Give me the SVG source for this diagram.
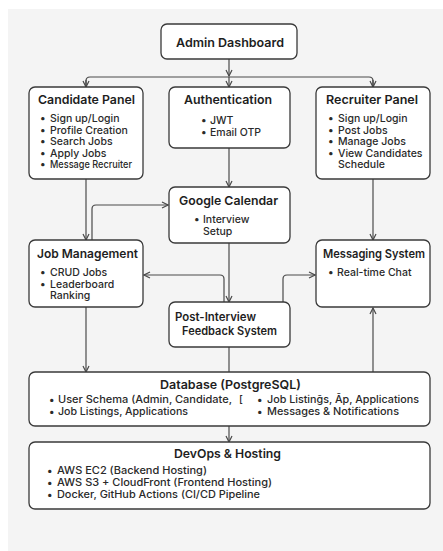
<svg xmlns="http://www.w3.org/2000/svg" width="443" height="551" viewBox="0 0 443 551">
<style>
.box{fill:#ffffff;stroke:#3a3a3a;stroke-width:1.3}
.t{font-family:Inter,"Liberation Sans",sans-serif;font-weight:600;font-size:12.3px;fill:#1e1e1e}
.f{font-family:Inter,"Liberation Sans",sans-serif;font-weight:600;font-size:11.2px;fill:#1e1e1e}
.b{font-family:Inter,"Liberation Sans",sans-serif;font-weight:500;font-size:10.5px;fill:#2a2a2a}
.d{font-family:Inter,"Liberation Sans",sans-serif;font-weight:500;font-size:10.3px;fill:#2a2a2a}
.c{fill:none;stroke:#4a4a4a;stroke-width:1.2}
</style>
<defs>
<marker id="ah" viewBox="0 0 8 8" refX="7" refY="4" markerWidth="8" markerHeight="8" markerUnits="userSpaceOnUse" orient="auto">
<path d="M1,1 L7,4 L1,7" fill="none" stroke="#4a4a4a" stroke-width="1.2"/>
</marker>
</defs>
<rect x="0" y="0" width="443" height="551" fill="#ffffff"/>
<rect x="8" y="9" width="435" height="542" fill="#f4f4f4"/>

<g id="connectors">
<path class="c" d="M229,59 V76" marker-end="url(#ah)"/>
<path class="c" d="M86,87 V81 Q86,77 90,77 H369 Q373,77 373,81 V87" />
<path class="c" d="M86,80 V87" marker-end="url(#ah)"/>
<path class="c" d="M373,80 V87" marker-end="url(#ah)"/>
<path class="c" d="M229,77 V87" marker-end="url(#ah)"/>
<path class="c" d="M229,148 V187" marker-end="url(#ah)"/>
<path class="c" d="M86,179 V240" marker-end="url(#ah)"/>
<path class="c" d="M92,240 V209 Q92,205 96,205 H168" marker-end="url(#ah)"/>
<path class="c" d="M373,179 V240" marker-end="url(#ah)"/>
<path class="c" d="M229,243 V302" marker-end="url(#ah)"/>
<path class="c" d="M224,302 V279 Q224,275 220,275 H144" marker-end="url(#ah)"/>
<path class="c" d="M283,302 V279 Q283,275 287,275 H315" marker-end="url(#ah)"/>
<path class="c" d="M86,307 V372" marker-end="url(#ah)"/>
<path class="c" d="M229,347 V372"/>
<path class="c" d="M373,372 V308" marker-end="url(#ah)"/>
<path class="c" d="M229,426 V442" marker-end="url(#ah)"/>
</g>

<g id="admin">
<rect class="box" x="161" y="24" width="136" height="35" rx="6"/>
<text class="t" x="176" y="47" textLength="108" lengthAdjust="spacingAndGlyphs">Admin Dashboard</text>
</g>

<g id="candidate">
<rect class="box" x="29" y="87" width="114" height="92" rx="6"/>
<text class="t" x="38" y="104" textLength="97" lengthAdjust="spacingAndGlyphs">Candidate Panel</text>
<text class="b" x="40" y="122">•</text><text class="b" x="50" y="122">Sign up/Login</text>
<text class="b" x="40" y="133.5">•</text><text class="b" x="50" y="133.5">Profile Creation</text>
<text class="b" x="40" y="145">•</text><text class="b" x="50" y="145">Search Jobs</text>
<text class="b" x="40" y="156.5">•</text><text class="b" x="50" y="156.5">Apply Jobs</text>
<text class="b" x="40" y="168">•</text><text class="b" x="50" y="168" textLength="82" lengthAdjust="spacingAndGlyphs">Message Recruiter</text>
</g>

<g id="auth">
<rect class="box" x="169" y="87" width="121" height="61" rx="6"/>
<text class="t" x="184" y="104" textLength="88" lengthAdjust="spacingAndGlyphs">Authentication</text>
<text class="b" x="201" y="124">•</text><text class="b" x="210" y="124">JWT</text>
<text class="b" x="201" y="136">•</text><text class="b" x="210" y="136">Email OTP</text>
</g>

<g id="recruiter">
<rect class="box" x="316" y="87" width="114" height="92" rx="6"/>
<text class="t" x="326" y="104" textLength="92" lengthAdjust="spacingAndGlyphs">Recruiter Panel</text>
<text class="b" x="328" y="122">•</text><text class="b" x="338" y="122">Sign up/Login</text>
<text class="b" x="328" y="133.5">•</text><text class="b" x="338" y="133.5">Post Jobs</text>
<text class="b" x="328" y="145">•</text><text class="b" x="338" y="145">Manage Jobs</text>
<text class="b" x="328" y="156.5">•</text><text class="b" x="338" y="156.5">View Candidates</text>
<text class="b" x="338" y="168">Schedule</text>
</g>

<g id="calendar">
<rect class="box" x="169" y="187" width="121" height="56" rx="6"/>
<text class="t" x="179" y="205" textLength="99" lengthAdjust="spacingAndGlyphs">Google Calendar</text>
<text class="b" x="194" y="223">•</text><text class="b" x="203" y="223">Interview</text>
<text class="b" x="203" y="235">Setup</text>
</g>

<g id="jobmgmt">
<rect class="box" x="29" y="240" width="114" height="67" rx="6"/>
<text class="t" x="37" y="258" textLength="101" lengthAdjust="spacingAndGlyphs">Job Management</text>
<text class="b" x="40" y="276">•</text><text class="b" x="50" y="276">CRUD Jobs</text>
<text class="b" x="40" y="287.5">•</text><text class="b" x="50" y="287.5">Leaderboard</text>
<text class="b" x="50" y="299">Ranking</text>
</g>

<g id="messaging">
<rect class="box" x="316" y="240" width="114" height="67" rx="6"/>
<text class="t" x="323" y="258" textLength="102" lengthAdjust="spacingAndGlyphs">Messaging System</text>
<text class="b" x="328" y="276">•</text><text class="b" x="337" y="276">Real-time Chat</text>
</g>

<g id="feedback">
<rect class="box" x="169" y="302" width="121" height="45" rx="6"/>
<text class="f" x="175" y="320.5" textLength="81" lengthAdjust="spacingAndGlyphs">Post-Interview</text>
<text class="f" x="182" y="334.5" textLength="95" lengthAdjust="spacingAndGlyphs">Feedback System</text>
</g>

<g id="database">
<rect class="box" x="29" y="372" width="401" height="54" rx="6"/>
<text class="t" x="160" y="389" textLength="141" lengthAdjust="spacingAndGlyphs">Database (PostgreSQL)</text>
<text class="d" x="49" y="403">•</text><text class="d" x="58" y="403" textLength="174" lengthAdjust="spacingAndGlyphs">User Schema (Admin, Candidate,</text>
<text class="d" x="239" y="403">[</text>
<text class="d" x="257" y="403">•</text><text class="d" x="267" y="403" textLength="152" lengthAdjust="spacingAndGlyphs">Job Listinḡs, Āp, Applications</text>
<text class="d" x="49" y="415">•</text><text class="d" x="58" y="415" textLength="130" lengthAdjust="spacingAndGlyphs">Job Listings, Applications</text>
<text class="d" x="257" y="415">•</text><text class="d" x="267" y="415" textLength="132" lengthAdjust="spacingAndGlyphs">Messages &amp; Notifications</text>
</g>

<g id="devops">
<rect class="box" x="29" y="442" width="401" height="67" rx="6"/>
<text class="t" x="174" y="458" textLength="107" lengthAdjust="spacingAndGlyphs">DevOps &amp; Hosting</text>
<text class="d" x="47" y="474">•</text><text class="d" x="57" y="474" textLength="150" lengthAdjust="spacingAndGlyphs">AWS EC2 (Backend Hosting)</text>
<text class="d" x="47" y="486">•</text><text class="d" x="57" y="486" textLength="215" lengthAdjust="spacingAndGlyphs">AWS S3 + CloudFront (Frontend Hosting)</text>
<text class="d" x="47" y="498">•</text><text class="d" x="57" y="498" textLength="203" lengthAdjust="spacingAndGlyphs">Docker, GitHub Actions (CI/CD Pipeline</text>
</g>
</svg>
